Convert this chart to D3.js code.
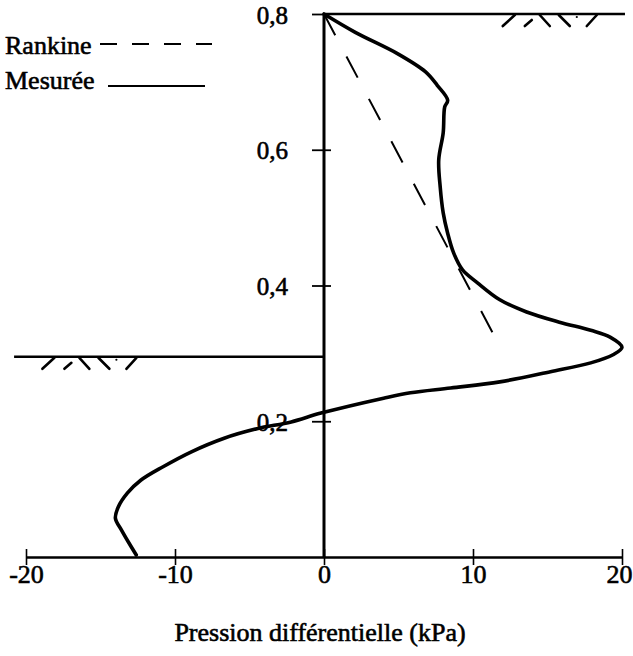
<!DOCTYPE html>
<html>
<head>
<meta charset="utf-8">
<script src="https://cdn.jsdelivr.net/npm/d3@7"></script>
<style>
  html, body { margin: 0; padding: 0; background: #fff; }
  svg { display: block; }
  text { font-family: "Times New Roman", "Liberation Serif", Times, serif; fill: #000; }
</style>
</head>
<body>
<svg id="chart" width="633" height="656"></svg>
<script>
// ---------------- DATA ----------------
const xTicks = [-20, -10, 0, 10, 20];
const yTicks = [0.2, 0.4, 0.6, 0.8];
const xTitle = "Pression différentielle (kPa)";
const legendLabels = ["Rankine", "Mesurée"];

// Measured differential pressure (kPa) vs height (m)
const mesureeP = [0, 2.1, 4.9, 6.8, 7.6, 8.3, 8.1, 8.0, 7.7, 7.8, 8.0, 8.3, 8.7, 9.3, 10.3, 11.8, 13.6, 15.8, 17.9, 19.2, 20.0,
                  19.4, 17.9, 15.2, 11.8, 8.5, 5.8, 4.0, -0.2, -2.2, -4.5, -6.7, -8.9, -10.8, -12.3, -13.2, -13.8, -14.0, -13.6, -13.1, -12.6];
const mesureeH = [0.8, 0.773, 0.742, 0.715, 0.695, 0.673, 0.663, 0.625, 0.585, 0.545, 0.507, 0.477, 0.448, 0.423, 0.404, 0.379, 0.361, 0.346, 0.334, 0.324, 0.309,
                  0.298, 0.286, 0.273, 0.258, 0.249, 0.242, 0.234, 0.212, 0.199, 0.189, 0.175, 0.155, 0.133, 0.113, 0.094, 0.074, 0.057, 0.040, 0.021, 0.003];

// Rankine theoretical line
const rankineP = [0, 11.4];
const rankineH = [0.8, 0.327];

// Soil surface levels (height m, from kPa, to kPa)
const levelH = [0.8, 0.295];
const levelFrom = [0, -20.8];
const levelTo = [20.2, 0];
const hatchStart = [12.0, -18.9]; // kPa where hatch symbol begins

// ---------------- CHART ----------------
const svg = d3.select("#chart");
const x = d3.scaleLinear().domain([-20, 20]).range([26, 622]);
const y = d3.scaleLinear().domain([0, 0.8]).range([557, 14]);

const loc = d3.formatLocale({decimal: ",", thousands: " ", grouping: [3], currency: ["", ""], minus: "-"});
const fy = loc.format(".1f");
const fx = loc.format("d");

const textStroke = 0.6;

// Bottom axis
const xAxis = d3.axisBottom(x).tickValues(xTicks).tickFormat(fx).tickSize(0).tickPadding(8);
const gx = svg.append("g").attr("transform", `translate(0,${y(0)})`).call(xAxis);
gx.select(".domain").attr("stroke", "#000").attr("stroke-width", 2.6);
gx.selectAll(".tick text").attr("font-size", 26).attr("font-family", null)
  .attr("stroke", "#000").attr("stroke-width", textStroke)
  .attr("text-anchor", d => d === 20 ? "end" : "middle")
  .attr("x", d => d === 20 ? 632 - x(20) : 0);
gx.selectAll(".tick").append("line")
  .attr("x1", 0).attr("x2", 0)
  .attr("y1", -8).attr("y2", 8)
  .attr("stroke", "#000").attr("stroke-width", 1.6);

// Vertical axis at x=0
const yAxis = d3.axisLeft(y).tickValues(yTicks).tickFormat(fy).tickSize(0).tickPadding(36);
const gy = svg.append("g").attr("transform", `translate(${x(0)},0)`).call(yAxis);
gy.select(".domain").remove();
gy.append("line").attr("x1", 0).attr("x2", 0).attr("y1", y(0.8)).attr("y2", y(0))
  .attr("stroke", "#000").attr("stroke-width", 3);
gy.selectAll(".tick text").attr("font-size", 25).attr("font-family", null)
  .attr("stroke", "#000").attr("stroke-width", textStroke).attr("dy", "0.36em");
gy.selectAll(".tick").append("line")
  .attr("x1", -12).attr("x2", d => d === 0.8 ? 0 : 7)
  .attr("y1", 0).attr("y2", 0)
  .attr("stroke", "#000").attr("stroke-width", 1.8);

// Soil levels
levelH.forEach((h, i) => {
  svg.append("line")
    .attr("x1", x(levelFrom[i])).attr("x2", x(levelTo[i]))
    .attr("y1", y(h)).attr("y2", y(h))
    .attr("stroke", "#000").attr("stroke-width", 2.4);
  // hatch symbol beneath the level line
  const x0 = x(hatchStart[i]), y0 = y(h);
  const segs = [[0, 12, 12, 1], [22, 12, 29, 6], [37, 1, 47, 12], [56, 1, 67, 12], [84, 12, 94, 1]];
  const g = svg.append("g").attr("transform", `translate(${x0},${y0})`);
  g.selectAll("line").data(segs).join("line")
    .attr("x1", d => d[0]).attr("y1", d => d[1]).attr("x2", d => d[2]).attr("y2", d => d[3])
    .attr("stroke", "#000").attr("stroke-width", 2.6).attr("stroke-linecap", "round");
  g.append("circle").attr("cx", 74).attr("cy", 3).attr("r", 1.1).attr("fill", "#000");
});

// Rankine dashed line
const rankine = rankineP.map((p, i) => [p, rankineH[i]]);
svg.append("path")
  .attr("d", d3.line().x(d => x(d[0])).y(d => y(d[1]))(rankine))
  .attr("fill", "none").attr("stroke", "#000").attr("stroke-width", 2)
  .attr("stroke-dasharray", "24,24");

// Measured curve
const mesuree = mesureeP.map((p, i) => [p, mesureeH[i]]);
svg.append("path")
  .attr("d", d3.line().curve(d3.curveCatmullRom.alpha(0.5)).x(d => x(d[0])).y(d => y(d[1]))(mesuree))
  .attr("fill", "none").attr("stroke", "#000").attr("stroke-width", 3.6)
  .attr("stroke-linejoin", "round").attr("stroke-linecap", "round");

// Legend
const leg = svg.append("g");
leg.append("text").attr("x", 5).attr("y", 54).attr("font-size", 26)
  .attr("stroke", "#000").attr("stroke-width", textStroke).text(legendLabels[0]);
leg.append("line").attr("x1", 100).attr("x2", 212).attr("y1", 44).attr("y2", 44)
  .attr("stroke", "#000").attr("stroke-width", 2).attr("stroke-dasharray", "17,15");
leg.append("text").attr("x", 5).attr("y", 89).attr("font-size", 26)
  .attr("stroke", "#000").attr("stroke-width", textStroke).text(legendLabels[1]);
leg.append("line").attr("x1", 108).attr("x2", 205).attr("y1", 86).attr("y2", 86)
  .attr("stroke", "#000").attr("stroke-width", 1.8);

// Axis title
svg.append("text").attr("x", 320).attr("y", 641).attr("text-anchor", "middle")
  .attr("font-size", 26).attr("stroke", "#000").attr("stroke-width", textStroke)
  .text(xTitle);
</script>
</body>
</html>
